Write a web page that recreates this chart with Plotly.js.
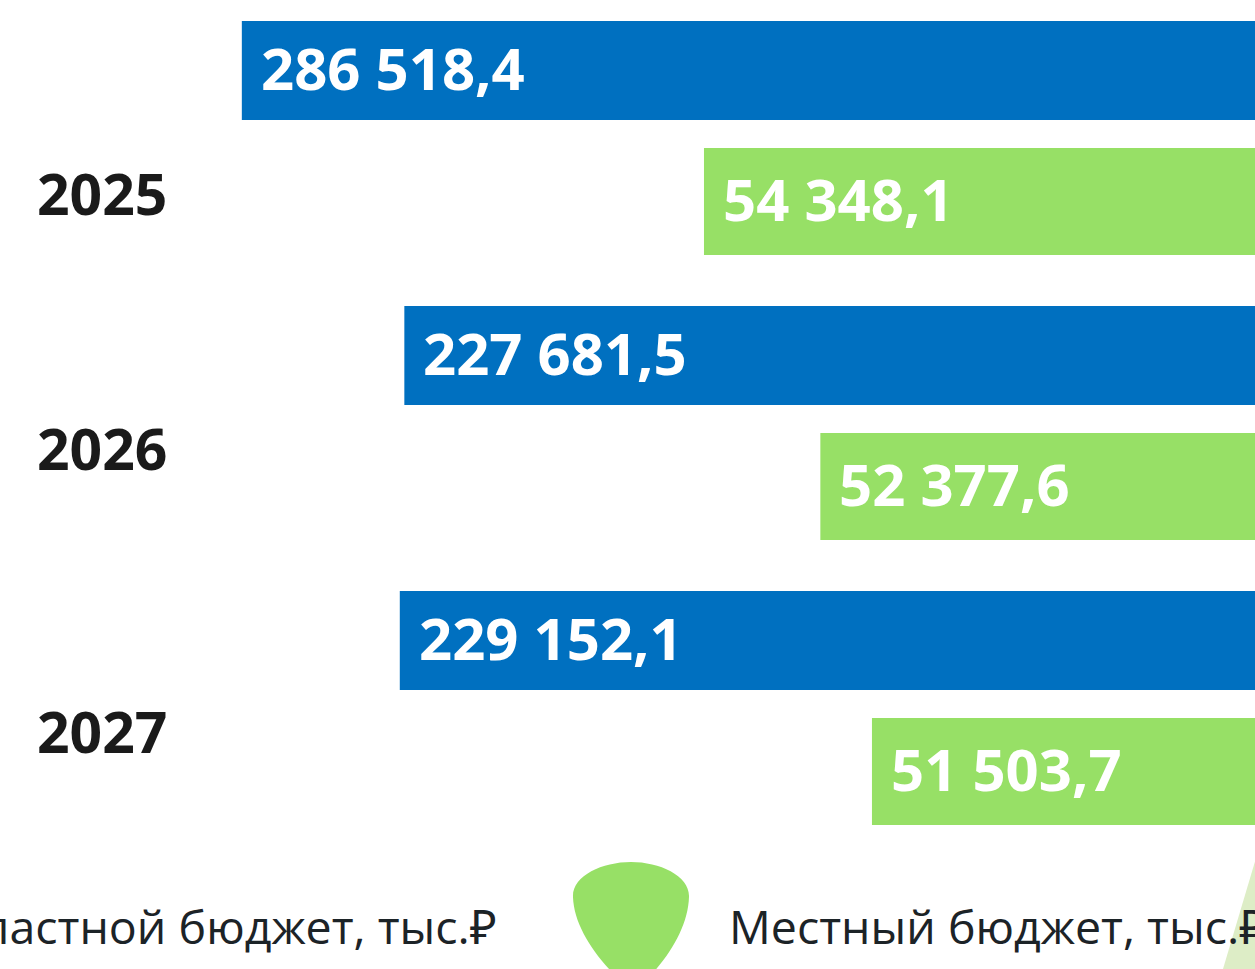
<!DOCTYPE html>
<html>
<head>
<meta charset="utf-8">
<script src="https://cdn.plot.ly/plotly-3.0.1.min.js"></script>
<style>html,body{margin:0;padding:0;background:#fff;}#chart{width:1255px;height:969px;}</style>
</head>
<body>
<div id="chart"></div>
<script>
// ---- data ----
var years = ['2025', '2026', '2027'];
var regionalBudget = [286518.4, 227681.5, 229152.1];   // Областной бюджет, тыс.₽
var localBudget = [54348.1, 52377.6, 51503.7];         // Местный бюджет, тыс.₽
var legendLabels = ['Областной бюджет, тыс.₽', 'Местный бюджет, тыс.₽'];

// ---- style ----
var W = 1255, H = 969;
var BLUE = '#0070C0', GREEN = '#97E066', PALE = '#DDEDC6';
var FONT = '"Open Sans", "Noto Sans", sans-serif';

function fmt(v) {
  var s = v.toFixed(1).split('.');
  return s[0].replace(/\B(?=(\d{3})+(?!\d))/g, ' ') + ',' + s[1];
}
function px(x) { return x / W; }
function py(y) { return 1 - y / H; }

var traceBlue = {
  type: 'bar', orientation: 'h', y: years, x: regionalBudget,
  xaxis: 'x', yaxis: 'y', marker: {color: BLUE},
  offset: -0.4105, width: 0.3474, hoverinfo: 'none', name: legendLabels[0]
};
var traceGreen = {
  type: 'bar', orientation: 'h', y: years, x: localBudget,
  xaxis: 'x2', yaxis: 'y', marker: {color: GREEN},
  offset: 0.0351, width: 0.3754, hoverinfo: 'none', name: legendLabels[1]
};

var annotations = [];
var labelFont = {family: FONT, size: 58, color: '#ffffff'};
regionalBudget.forEach(function (v, i) {
  annotations.push({xref: 'x', yref: 'y', x: Math.log10(v), y: i - 0.4105 + 0.3474 / 2,
    text: '<b>' + fmt(v) + '</b>', showarrow: false, xanchor: 'left', yanchor: 'middle',
    xshift: 17, yshift: 3, font: labelFont});
});
localBudget.forEach(function (v, i) {
  annotations.push({xref: 'x2', yref: 'y', x: v, y: i + 0.0351 + 0.3754 / 2,
    text: '<b>' + fmt(v) + '</b>', showarrow: false, xanchor: 'left', yanchor: 'middle',
    xshift: 17, yshift: 3, font: labelFont});
});
var yearShift = [0.20, 0.095, 0.088];
years.forEach(function (yr, i) {
  annotations.push({xref: 'paper', yref: 'y', x: px(35), y: i + yearShift[i],
    text: '<b>' + yr + '</b>', showarrow: false, xanchor: 'left', yanchor: 'middle',
    yshift: 2, font: {family: FONT, size: 57, color: '#1a1a1a'}});
});
var legFont = {family: FONT, size: 46.5, color: '#1c2327'};
annotations.push({xref: 'paper', yref: 'paper', x: px(499), y: py(926), text: legendLabels[0],
  showarrow: false, xanchor: 'right', yanchor: 'middle', font: legFont});
annotations.push({xref: 'paper', yref: 'paper', x: px(727), y: py(926), text: legendLabels[1],
  showarrow: false, xanchor: 'left', yanchor: 'middle', font: legFont});

function pathFromPx(cmds) {
  return cmds.map(function (c) {
    if (typeof c === 'string') return c;
    return px(c[0]).toFixed(5) + ',' + py(c[1]).toFixed(5);
  }).join(' ');
}
var shieldPath = pathFromPx([
  'M', [573, 897],
  'C', [572, 876], [602, 862], [631, 862],
  'C', [660, 862], [690, 876], [689, 897],
  'C', [688, 930], [664, 966], [633, 992],
  'C', [602, 966], [574, 930], [573, 897], 'Z']);
var triPath = pathFromPx(['M', [1223, 969], 'L', [1256, 858], 'L', [1256, 969], 'Z']);

var layout = {
  width: W, height: H,
  margin: {l: 0, r: 0, t: 0, b: 0, pad: 0},
  paper_bgcolor: '#ffffff', plot_bgcolor: 'rgba(0,0,0,0)',
  showlegend: false,
  xaxis: {type: 'log', range: [5.6057, 4.8348], visible: false, fixedrange: true},
  xaxis2: {type: 'linear', range: [66268, 45018], overlaying: 'x', anchor: 'y', visible: false, fixedrange: true},
  yaxis: {type: 'category', range: [2.9158, -0.4842], visible: false, fixedrange: true},
  annotations: annotations,
  shapes: [
    {type: 'path', xref: 'paper', yref: 'paper', path: shieldPath, fillcolor: GREEN, line: {width: 0}, layer: 'above'},
    {type: 'path', xref: 'paper', yref: 'paper', path: triPath, fillcolor: PALE, line: {width: 0}, layer: 'below'}
  ]
};

Plotly.newPlot('chart', [traceBlue, traceGreen], layout, {staticPlot: true, displayModeBar: false});
</script>
</body>
</html>
